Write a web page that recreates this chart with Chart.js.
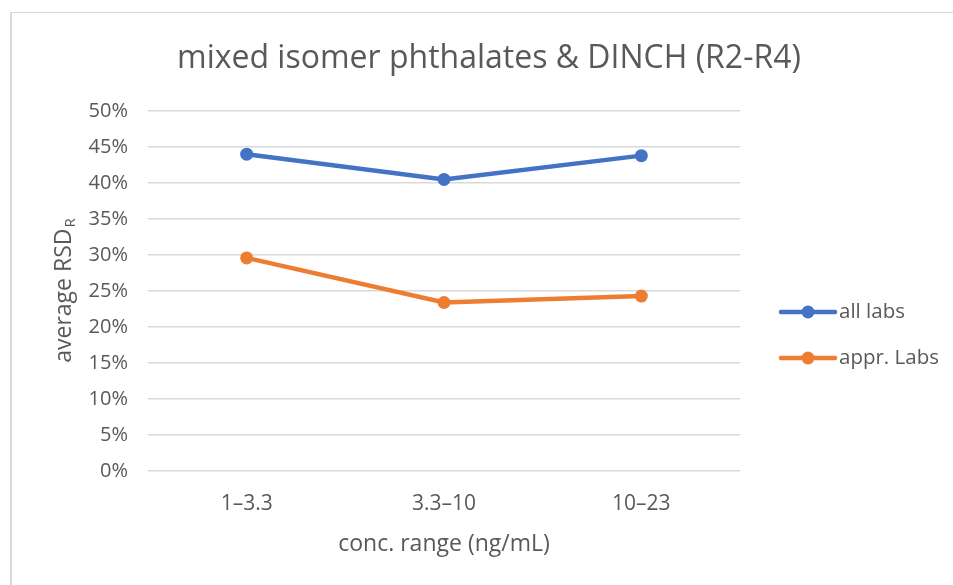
<!DOCTYPE html>
<html>
<head>
<meta charset="utf-8">
<script src="https://cdn.jsdelivr.net/npm/chart.js@4/dist/chart.umd.min.js"></script>
<style>
  html, body { margin: 0; padding: 0; background: #ffffff; }
  #wrap { position: relative; width: 953px; height: 585px; overflow: hidden; }
  #frame { position: absolute; left: 10px; top: 12px; width: 1000px; height: 700px;
           border-left: 2px solid #d9d9d9; border-top: 1px solid #d9d9d9; }
  canvas { position: absolute; left: 0; top: 0; }
</style>
</head>
<body>
<div id="wrap">
  <div id="frame"></div>
  <canvas id="c" width="953" height="585"></canvas>
</div>
<script>
const TITLE = 'mixed isomer phthalates & DINCH (R2-R4)';
const X_TITLE = 'conc. range (ng/mL)';
const Y_TITLE_MAIN = 'average RSD';
const Y_TITLE_SUB = 'R';
const categories = ['1–3.3', '3.3–10', '10–23'];
const seriesNames = ['all labs', 'appr. Labs'];
const allLabs = [44.0, 40.5, 43.8];
const apprLabs = [29.6, 23.4, 24.3];
const yMin = 0, yMax = 50, yStep = 5;

const FONT = "'Open Sans', sans-serif";
const TEXT = '#595959';

const decorPlugin = {
  id: 'decor',
  afterDraw(chart) {
    const ctx = chart.ctx;
    ctx.save();
    ctx.fillStyle = TEXT;
    // Title
    ctx.font = "32px " + FONT;
    ctx.textAlign = 'center';
    ctx.textBaseline = 'middle';
    ctx.fillText(TITLE, 489, 59);
    // Y title with subscript
    ctx.font = "23px " + FONT;
    const wMain = ctx.measureText(Y_TITLE_MAIN).width;
    ctx.font = "15px " + FONT;
    const wSub = ctx.measureText(Y_TITLE_SUB).width;
    const total = wMain + wSub;
    const cy = (chart.chartArea.top + chart.chartArea.bottom) / 2;
    ctx.translate(63, cy);
    ctx.rotate(-Math.PI / 2);
    ctx.textAlign = 'left';
    ctx.textBaseline = 'alphabetic';
    ctx.font = "23px " + FONT;
    ctx.fillText(Y_TITLE_MAIN, -total / 2, 8);
    ctx.font = "15px " + FONT;
    ctx.fillText(Y_TITLE_SUB, -total / 2 + wMain + 1, 12);
    ctx.restore();

    // Legend
    ctx.save();
    const ys = [312, 358];
    chart.data.datasets.forEach((ds, i) => {
      const y = ys[i];
      ctx.strokeStyle = ds.borderColor;
      ctx.lineWidth = 4.5;
      ctx.lineCap = 'round';
      ctx.beginPath();
      ctx.moveTo(781, y);
      ctx.lineTo(835, y);
      ctx.stroke();
      ctx.fillStyle = ds.borderColor;
      ctx.beginPath();
      ctx.arc(808, y, 6.5, 0, Math.PI * 2);
      ctx.fill();
      ctx.fillStyle = TEXT;
      ctx.font = "20.5px " + FONT;
      ctx.textAlign = 'left';
      ctx.textBaseline = 'middle';
      ctx.fillText(ds.label, 839, y);
    });
    ctx.restore();
  }
};

new Chart(document.getElementById('c'), {
  type: 'line',
  data: {
    labels: categories,
    datasets: [
      { label: seriesNames[0], data: allLabs, borderColor: '#4472C4', backgroundColor: '#4472C4',
        borderWidth: 4.5, pointRadius: 6.5, pointBorderWidth: 0, pointBackgroundColor: '#4472C4', tension: 0 },
      { label: seriesNames[1], data: apprLabs, borderColor: '#ED7D31', backgroundColor: '#ED7D31',
        borderWidth: 4.5, pointRadius: 6.5, pointBorderWidth: 0, pointBackgroundColor: '#ED7D31', tension: 0 }
    ]
  },
  options: {
    responsive: false,
    devicePixelRatio: 1,
    animation: false,
    layout: { padding: { top: 111, right: 213, bottom: 0, left: 0 } },
    plugins: { legend: { display: false }, title: { display: false }, tooltip: { enabled: false } },
    scales: {
      x: {
        offset: true,
        grid: { display: false, drawTicks: false },
        border: { display: false },
        ticks: { color: TEXT, font: { family: FONT, size: 21 }, padding: 20, maxRotation: 0 },
        title: { display: true, text: X_TITLE, color: TEXT, font: { family: FONT, size: 23 }, padding: { top: 0, bottom: 27 } },
        afterFit(s) { s.height = 114; }
      },
      y: {
        min: yMin, max: yMax,
        grid: { color: '#d9d9d9', lineWidth: 1.5, drawTicks: false },
        border: { display: false },
        ticks: { stepSize: yStep, color: TEXT, font: { family: FONT, size: 20 }, padding: 20,
                 callback: v => v + '%' },
        afterFit(s) { s.width = 148; }
      }
    }
  },
  plugins: [decorPlugin]
});
</script>
</body>
</html>
